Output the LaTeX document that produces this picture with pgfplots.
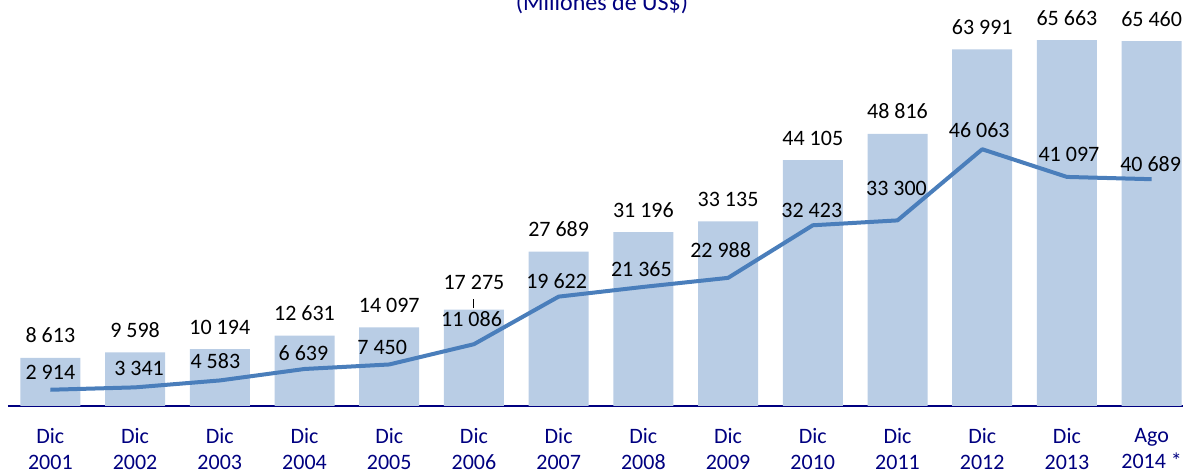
\documentclass[border=0pt]{standalone}
\usepackage{fontspec}
\setmainfont{Carlito}
\usepackage{pgfplots}
\usepackage{pgfplotstable}
\pgfplotsset{compat=1.18}

\definecolor{barblue}{HTML}{B9CDE5}
\definecolor{lineblue}{HTML}{4A7EBB}
\definecolor{navy}{HTML}{000080}

% x, bar value, line value, label offsets (pt)
\pgfplotstableread{
x  bar    line   bdy  ldx   ldy
0  8613   2914   7.5  0     5
1  9598   3341   7.5  2     5.7
2  10194  4583   7.5  -2.2  6
3  12631  6639   7.5  -0.5  4.15
4  14097  7450   7.5  -3.5  4.75
5  17275  11086  10   -1.2  8.75
6  27689  19622  7.5  -1    4.15
7  31196  21365  7.5  -1    5.15
8  33135  22988  7.5  -3.7  10
9  44105  32423  7.5  -0.5  3.65
10 48816  33300  7.5  -0.5  12.5
11 63991  46063  7.5  -1.5  6
12 65663  41097  7.5  1     7.65
13 65460  40689  7.5  -0.5  3.75
}\datos

\begin{document}
\begin{tikzpicture}
\begin{axis}[
    at={(0,0)}, anchor=south west,
    scale only axis,
    width=593pt, height=203pt,
    xmin=-0.5, xmax=13.5,
    ymin=0, ymax=72840,
    axis x line*=bottom,
    axis y line=none,
    x axis line style={navy, line width=0.75pt, -},
    xtick={0,...,13},
    major tick length=0pt,
    xticklabels={Dic\\2001,Dic\\2002,Dic\\2003,Dic\\2004,Dic\\2005,Dic\\2006,Dic\\2007,
        Dic\\2008,Dic\\2009,Dic\\2010,Dic\\2011,Dic\\2012,Dic\\2013,Ago\\2014 *},
    xticklabel style={align=center, font=\fontsize{11}{13.4}\selectfont, text=navy,
        inner sep=0pt, anchor=north, yshift=-10.75pt},
    clip=false,
    every node near coord/.append style={font=\fontsize{11}{13.4}\selectfont,
        text=black, anchor=base, inner sep=0pt},
    /pgf/number format/fixed,
    /pgf/number format/precision=0,
    /pgf/number format/1000 sep={\ },
    /pgf/number format/assume math mode=true,
]

\addplot[ybar, bar width=30pt, fill=barblue, draw=none,
    nodes near coords,
    visualization depends on={\thisrow{bdy} \as \bdy},
    every node near coord/.append style={yshift=\bdy pt}]
    table[x=x, y=bar] {\datos};

\addplot[lineblue, line width=2pt, line join=round, mark=none,
    nodes near coords,
    visualization depends on={\thisrow{ldx} \as \ldx},
    visualization depends on={\thisrow{ldy} \as \ldy},
    every node near coord/.append style={xshift=\ldx pt, yshift=\ldy pt}]
    table[x=x, y=line] {\datos};

% leader line of the 2006 label
\draw[black, line width=0.5pt] (axis cs:5,17530) -- (axis cs:5,19140);
\end{axis}

\node[anchor=base, text=navy, font=\fontsize{12}{14}\selectfont] at (297pt,197.5pt) {(Millones de US\$)};

\pgfresetboundingbox
\path (-4pt,-32pt) rectangle (587.5pt,203pt);
\end{tikzpicture}
\end{document}
